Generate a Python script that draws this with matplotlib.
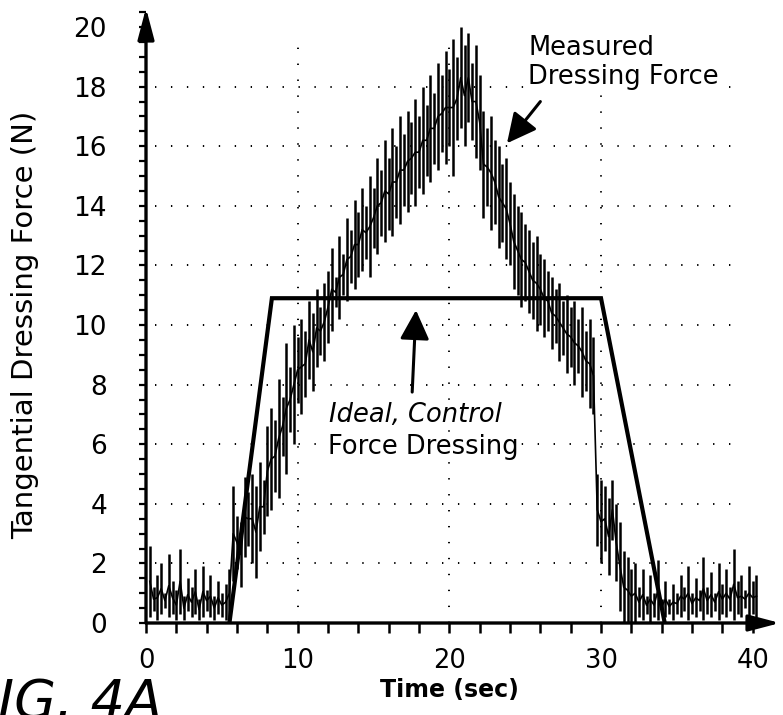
import numpy as np
import matplotlib
matplotlib.use('Agg')
import matplotlib.pyplot as plt
from matplotlib.ticker import MultipleLocator

plt.rcParams['font.family'] = 'DejaVu Sans'

#-----------------------------------------------------------------------------------------
# Measured dressing force trace, read off the figure as a band (low / high) per sample
time_s = [0.25, 0.5, 0.75, 1.0, 1.25, 1.5, 1.75, 2.0,
          2.25, 2.5, 2.75, 3.0, 3.25, 3.5, 3.75, 4.0,
          4.25, 4.5, 4.75, 5.0, 5.25, 5.5, 5.75, 6.0,
          6.25, 6.5, 6.75, 7.0, 7.25, 7.5, 7.75, 8.0,
          8.25, 8.5, 8.75, 9.0, 9.25, 9.5, 9.75, 10.0,
          10.25, 10.5, 10.75, 11.0, 11.25, 11.5, 11.75, 12.0,
          12.25, 12.5, 12.75, 13.0, 13.25, 13.5, 13.75, 14.0,
          14.25, 14.5, 14.75, 15.0, 15.25, 15.5, 15.75, 16.0,
          16.25, 16.5, 16.75, 17.0, 17.25, 17.5, 17.75, 18.0,
          18.25, 18.5, 18.75, 19.0, 19.25, 19.5, 19.75, 20.0,
          20.25, 20.5, 20.75, 21.0, 21.25, 21.5, 21.75, 22.0,
          22.25, 22.5, 22.75, 23.0, 23.25, 23.5, 23.75, 24.0,
          24.25, 24.5, 24.75, 25.0, 25.25, 25.5, 25.75, 26.0,
          26.25, 26.5, 26.75, 27.0, 27.25, 27.5, 27.75, 28.0,
          28.25, 28.5, 28.75, 29.0, 29.25, 29.5, 29.75, 30.0,
          30.25, 30.5, 30.75, 31.0, 31.25, 31.5, 31.75, 32.0,
          32.25, 32.5, 32.75, 33.0, 33.25, 33.5, 33.75, 34.0,
          34.25, 34.5, 34.75, 35.0, 35.25, 35.5, 35.75, 36.0,
          36.25, 36.5, 36.75, 37.0, 37.25, 37.5, 37.75, 38.0,
          38.25, 38.5, 38.75, 39.0, 39.25, 39.5, 39.75, 40.0,
          40.25]

force_hi = [2.6, 1.2, 1.6, 2.0, 1.0, 2.3, 1.4, 1.1,
            2.5, 0.9, 1.5, 1.2, 1.8, 0.8, 1.9, 1.1,
            1.6, 0.9, 1.4, 1.0, 1.3, 1.8, 4.6, 3.6,
            3.4, 4.9, 4.4, 5.0, 4.6, 5.4, 4.8, 6.6,
            7.2, 6.8, 8.2, 7.6, 9.4, 8.6, 10.0, 9.6,
            10.2, 9.8, 10.8, 10.4, 11.2, 10.6, 11.4, 11.8,
            12.6, 11.6, 13.0, 12.4, 13.6, 13.2, 14.2, 13.8,
            14.6, 14.0, 15.0, 14.6, 15.6, 15.2, 16.2, 15.6,
            16.6, 16.0, 17.0, 16.4, 17.2, 16.8, 17.6, 17.0,
            18.0, 17.4, 18.4, 17.8, 18.8, 18.4, 19.2, 18.6,
            19.6, 19.0, 20.0, 19.4, 19.8, 18.8, 19.4, 18.4,
            17.2, 16.6, 17.0, 16.2, 16.0, 15.4, 15.6, 14.8,
            14.4, 14.0, 13.8, 13.4, 13.2, 12.8, 13.0, 12.4,
            12.2, 11.8, 11.6, 11.2, 11.4, 10.8, 11.0, 10.6,
            10.8, 10.2, 10.6, 9.8, 10.2, 9.6, 5.0, 4.8,
            4.6, 4.2, 4.8, 4.0, 3.4, 2.4, 2.2, 1.8,
            2.0, 1.2, 1.8, 0.9, 1.6, 1.0, 2.1, 0.8,
            1.4, 0.8, 1.3, 1.0, 1.6, 1.2, 1.9, 1.0,
            1.5, 1.1, 2.2, 1.2, 1.7, 1.0, 2.0, 1.3,
            1.8, 1.2, 2.5, 1.4, 1.6, 1.1, 1.9, 1.4,
            1.6]

force_lo = [0.2, 0.4, 0.1, 0.3, 0.5, 0.2, 0.3, 0.1,
            0.3, 0.1, 0.4, 0.2, 0.3, 0.1, 0.2, 0.4,
            0.2, 0.1, 0.3, 0.2, 0.1, 0.2, 1.4, 1.8,
            1.2, 2.2, 2.6, 2.0, 1.5, 2.4, 3.0, 3.6,
            3.8, 4.4, 4.2, 5.6, 5.0, 6.4, 6.0, 7.4,
            7.0, 7.6, 8.2, 7.8, 8.6, 9.0, 8.8, 9.4,
            9.8, 10.6, 10.2, 11.0, 10.8, 11.4, 11.2, 11.6,
            11.8, 12.2, 11.6, 12.6, 12.4, 13.0, 12.8, 13.2,
            13.0, 13.6, 13.4, 14.0, 13.8, 14.4, 14.0, 14.6,
            14.4, 15.0, 14.8, 15.4, 15.2, 15.8, 15.4, 16.0,
            15.0, 16.2, 16.6, 16.0, 16.8, 16.2, 15.6, 15.2,
            13.6, 14.0, 13.2, 13.4, 12.6, 12.8, 12.2, 12.0,
            11.2, 11.0, 10.6, 10.8, 10.4, 10.2, 9.8, 10.0,
            9.6, 9.8, 9.2, 9.4, 8.8, 9.0, 8.4, 8.6,
            8.0, 8.4, 7.6, 7.8, 7.2, 7.0, 2.6, 2.0,
            2.4, 1.6, 2.8, 1.4, 0.4, 0.0, 0.0, 0.0,
            0.0, 0.2, 0.1, 0.3, 0.0, 0.2, 0.1, 0.3,
            0.2, 0.3, 0.1, 0.3, 0.2, 0.4, 0.1, 0.3,
            0.2, 0.4, 0.1, 0.3, 0.2, 0.4, 0.1, 0.3,
            0.2, 0.4, 0.1, 0.3, 0.2, 0.5, 0.1, 0.3,
            0.2]

# Ideal (controlled) force dressing profile - trapezoid
ideal_t = [5.5, 8.3, 30.0, 34.2]
ideal_f = [0.0, 10.9, 10.9, 0.0]

x_ticks  = [0, 10, 20, 30, 40]
y_ticks  = [0, 2, 4, 6, 8, 10, 12, 14, 16, 18, 20]
grid_x   = [10, 20, 30]
grid_y   = [2, 4, 6, 8, 10, 12, 14, 16, 18]

#-----------------------------------------------------------------------------------------
fig = plt.figure(figsize=(7.83, 7.15), dpi=100)
ax = fig.add_axes([146/783, 92/715, 634/783, 615/715])
ax.set_xlim(0, 41.8)
ax.set_ylim(0, 20.64)

# dotted grid, drawn by hand so it stops short of the axes arrows
dots = dict(color='black', lw=1.4, ls=(0, (0.7, 7.5)), zorder=1)
ax.hlines(grid_y, 0.6, 39.2, **dots)
ax.vlines(grid_x, 0, 19.5, **dots)

# measured trace: vertical strokes between low and high plus a core line
f_hi = np.array(force_hi)
f_lo = np.array(force_lo)
ax.vlines(time_s, f_lo, f_hi, color='black', lw=1.8, zorder=2)
ax.plot(time_s, (f_hi + f_lo) / 2, color='black', lw=1.2, zorder=2)

# ideal profile
ax.plot(ideal_t, ideal_f, color='black', lw=3.0, solid_joinstyle='miter', zorder=3)

# axes drawn as arrows
for s in ax.spines.values():
    s.set_visible(False)
arr = dict(arrowstyle='-|>,head_length=0.95,head_width=0.25', lw=2.4, color='black',
           shrinkA=0, shrinkB=0, mutation_scale=20)
ax.annotate('', xy=(0, 1), xytext=(0, 0), xycoords='axes fraction', arrowprops=arr)
ax.annotate('', xy=(1, 0), xytext=(0, 0), xycoords='axes fraction', arrowprops=arr)

ax.set_xticks(x_ticks)
ax.set_yticks(y_ticks)
ax.xaxis.set_minor_locator(MultipleLocator(2))
ax.yaxis.set_minor_locator(MultipleLocator(0.5))
ax.tick_params(axis='x', which='both', direction='out', length=7, width=1.8,
               labelsize=18.5, pad=11)
ax.tick_params(axis='y', which='both', direction='out', length=5, width=1.6,
               labelsize=19, pad=23)

ax.set_xlabel('Time (sec)', fontsize=17, fontweight='bold', va='top')
ax.xaxis.set_label_coords(0.479, -0.089)
ax.set_ylabel('Tangential Dressing Force (N)', fontsize=21, va='center', ha='center')
ax.yaxis.set_label_coords(-0.190, 0.485)

# annotations
box = dict(facecolor='white', edgecolor='none', pad=1)
ax.text(25.2, 19.75, 'Measured\nDressing Force', fontsize=18.5, va='top', ha='left',
        linespacing=1.15, bbox=box, zorder=4)
ax.annotate('', xy=(23.8, 16.1), xytext=(26.0, 17.5),
            arrowprops=dict(arrowstyle='-|>,head_length=0.9,head_width=0.45', lw=2.2,
                            color='black', shrinkA=0, shrinkB=0, mutation_scale=20))

ax.text(12.05, 6.98, 'Ideal, Control', fontsize=18.5, style='italic', va='center',
        ha='left', bbox=box, zorder=4)
ax.text(12.0, 5.9, 'Force Dressing', fontsize=18.5, va='center', ha='left',
        bbox=box, zorder=4)
ax.annotate('', xy=(17.8, 10.5), xytext=(17.55, 7.75),
            arrowprops=dict(arrowstyle='-|>,head_length=0.9,head_width=0.45', lw=2.2,
                            color='black', shrinkA=0, shrinkB=0, mutation_scale=20))

# figure caption, cut by the page edge as in the scan
fig.text(-33/783, -3/715, 'FIG. 4A', fontsize=39, style='italic', ha='left', va='baseline')

plt.savefig('out.png', dpi=100)
plt.close()
